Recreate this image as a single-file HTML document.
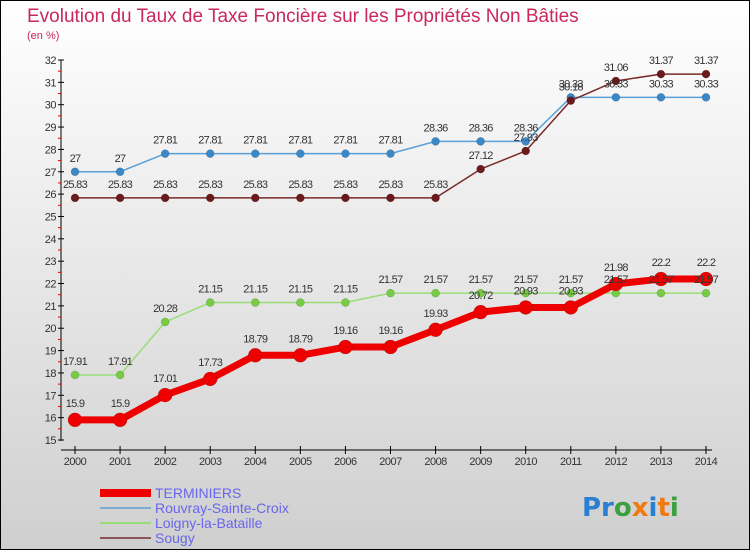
<!DOCTYPE html>
<html><head><meta charset="utf-8"><style>
body{margin:0;width:750px;height:550px;overflow:hidden}
svg{display:block;font-family:"Liberation Sans",sans-serif}
</style></head><body>
<svg id="chart" width="750" height="550">
<defs><linearGradient id="bg" x1="0" y1="0" x2="0" y2="1"><stop offset="0" stop-color="#ffffff"/><stop offset="1" stop-color="#cfcfcf"/></linearGradient></defs>
<rect x="0.5" y="0.5" width="749" height="549" fill="url(#bg)" stroke="#000"/>
<text x="27" y="22" font-size="19" fill="#c8285a">Evolution du Taux de Taxe Foncière sur les Propriétés Non Bâties</text>
<text x="27" y="39" font-size="11" fill="#c8285a">(en %)</text>
<g id="axes"></g><g id="series"></g><g id="labels"></g>
<g>
<rect x="100" y="489" width="51" height="8" fill="#ee0000"/>
<text x="155" y="498" font-size="14" fill="#6666ee">TERMINIERS</text>
<rect x="100" y="507" width="51" height="2" fill="#7aaed0"/>
<text x="155" y="513" font-size="14" fill="#6666ee">Rouvray-Sainte-Croix</text>
<rect x="100" y="522" width="51" height="2" fill="#99dd77"/>
<text x="155" y="528" font-size="14" fill="#6666ee">Loigny-la-Bataille</text>
<rect x="100" y="537" width="51" height="2" fill="#8a5555"/>
<text x="155" y="543" font-size="14" fill="#6666ee">Sougy</text>
</g>
<text x="582" y="516" font-size="26" font-weight="bold" font-family="'DejaVu Sans',sans-serif"><tspan fill="#2a7fd0">Pr</tspan><tspan fill="#3aa040">o</tspan><tspan fill="#f07a10">x</tspan><tspan fill="#2a7fd0">i</tspan><tspan fill="#f07a10">t</tspan><tspan fill="#3aa040">i</tspan></text>
</svg>
<script>
const years=[2000,2001,2002,2003,2004,2005,2006,2007,2008,2009,2010,2011,2012,2013,2014];
const terminiers=[15.9,15.9,17.01,17.73,18.79,18.79,19.16,19.16,19.93,20.72,20.93,20.93,21.98,22.2,22.2];
const rouvray=[27,27,27.81,27.81,27.81,27.81,27.81,27.81,28.36,28.36,28.36,30.33,30.33,30.33,30.33];
const loigny=[17.91,17.91,20.28,21.15,21.15,21.15,21.15,21.57,21.57,21.57,21.57,21.57,21.57,21.57,21.57];
const sougy=[25.83,25.83,25.83,25.83,25.83,25.83,25.83,25.83,25.83,27.12,27.93,30.18,31.06,31.37,31.37];
const yTicks=[15,16,17,18,19,20,21,22,23,24,25,26,27,28,29,30,31,32];
const NS="http://www.w3.org/2000/svg";
const X=i=>75+i*(706-75)/(years.length-1);
const Y=v=>440-(v-15)*(440-60)/17;
function mk(t,a,p){const e=document.createElementNS(NS,t);for(const k in a)e.setAttribute(k,a[k]);p.appendChild(e);return e;}
const ax=document.getElementById('axes');
let l=mk('line',{x1:61,y1:60,x2:61,y2:441,stroke:'#000'},ax);


l=mk('line',{x1:61,y1:450,x2:712,y2:450,stroke:'#000'},ax);


yTicks.forEach(v=>{
  mk('line',{x1:58,y1:Y(v),x2:64,y2:Y(v),stroke:'#000'},ax);
  if(v<32)mk('line',{x1:58,y1:Y(v+0.5),x2:61,y2:Y(v+0.5),stroke:'#e00'},ax);
  const t=mk('text',{x:56,y:Y(v)+4,'font-size':11,'text-anchor':'end',fill:'#333','letter-spacing':'-0.5'},ax);
  t.textContent=v;
  
  
});
years.forEach((yr,i)=>{
  mk('line',{x1:X(i),y1:446,x2:X(i),y2:454,stroke:'#000'},ax);
  const t=mk('text',{x:X(i),y:465,'font-size':11,'text-anchor':'middle',fill:'#333','letter-spacing':'-0.5'},ax);
  t.textContent=yr;
  
  
});
const sg=document.getElementById('series'),lg=document.getElementById('labels');
function draw(vals,name,col,lw,r,dot){
  const g=mk('g',{},sg);
  
  
  mk('polyline',{points:vals.map((v,i)=>X(i)+','+Y(v)).join(' '),fill:'none',stroke:col,'stroke-width':lw,'stroke-linejoin':'round'},g);
  vals.forEach((v,i)=>{
    const c=mk('circle',{cx:X(i),cy:Y(v),r:r,fill:dot,stroke:'rgba(0,0,0,0.25)','stroke-width':0.5},g);
    
    
    const t=mk('text',{x:X(i),y:Y(v)-(r+6),'font-size':11,'text-anchor':'middle',fill:'#333','letter-spacing':'-0.7'},lg);
    t.textContent=v;
    
    
  });
}
draw(rouvray,'rouvray','#5aa0d8',1.5,4,'#3a88c8');
draw(loigny,'loigny','#99dd77',1.5,4,'#77cc44');
draw(sougy,'sougy','#7a2a2a',1.5,4,'#6a1a1a');
draw(terminiers,'terminiers','#ee0000',7,7,'#ee0000');
</script>
</body></html>
